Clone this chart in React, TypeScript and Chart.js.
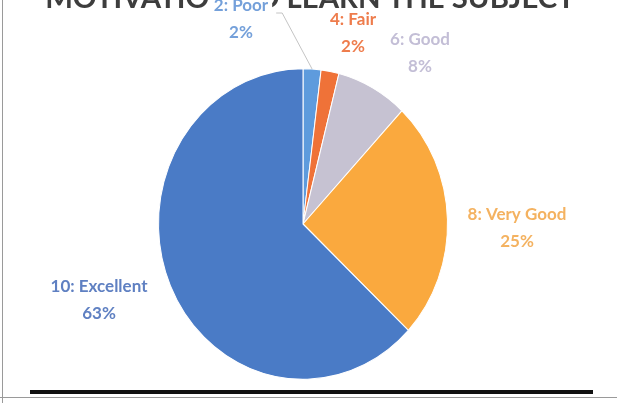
import React, { useEffect, useRef } from "react";
import { Chart, registerables } from "chart.js";

Chart.register(...registerables);

const categories = ["2: Poor", "4: Fair", "6: Good", "8: Very Good", "10: Excellent"];
const percentages = [2, 2, 8, 25, 63];
const percentLabels = ["2%", "2%", "8%", "25%", "63%"];
const sliceColors = ["#5E9BDD", "#EF7238", "#C6C2D2", "#FAA93E", "#4A7BC6"];
const labelColors = ["#74A0DA", "#EE7C4C", "#C3BED6", "#F4B260", "#5F80C2"];
const titleText = "MOTIVATION TO LEARN THE SUBJECT";

// label block centres (text layout only)
const labelPositions = [
  [241, 19],
  [353, 33],
  [420, 53],
  [517, 228],
  [99, 300],
];
const LINE_GAP = 27;
const SCALE_Y = 1.075;
const FONT = "bold 17px Lato";

const stretchPlugin = {
  id: "stretch",
  beforeDatasetsDraw(chart: any) {
    const arc = chart.getDatasetMeta(0).data[0];
    const ctx = chart.ctx;
    ctx.save();
    ctx.translate(arc.x, arc.y);
    ctx.scale(1, SCALE_Y);
    ctx.translate(-arc.x, -arc.y);
  },
  afterDatasetsDraw(chart: any) {
    chart.ctx.restore();
  },
};

const titlePlugin = {
  id: "cutTitle",
  beforeDatasetsDraw(chart: any) {
    const ctx = chart.ctx;
    ctx.save();
    let size = 30;
    ctx.font = `bold ${size}px Lato`;
    const w = ctx.measureText(titleText).width;
    size = (size * 530) / w;
    ctx.font = `bold ${size}px Lato`;
    ctx.fillStyle = "#3d3d3d";
    ctx.textAlign = "center";
    ctx.textBaseline = "alphabetic";
    ctx.fillText(titleText, 310, 8);
    ctx.restore();
  },
};

const labelPlugin = {
  id: "sliceLabels",
  afterDatasetsDraw(chart: any) {
    const ctx = chart.ctx;
    const meta = chart.getDatasetMeta(0);
    ctx.save();
    ctx.font = FONT;
    ctx.textAlign = "center";
    ctx.textBaseline = "middle";
    meta.data.forEach((arc: any, i: number) => {
      const [cx, cy] = labelPositions[i];
      if (i === 0) {
        // white box over title + leader line
        const w = ctx.measureText(categories[i]).width;
        ctx.fillStyle = "#fff";
        ctx.fillRect(cx - w / 2 - 4, 0, w + 8, cy - LINE_GAP / 2 + 9);
        const mid = (arc.startAngle + arc.endAngle) / 2;
        const ex = arc.x + arc.outerRadius * Math.cos(mid);
        const ey = arc.y + arc.outerRadius * SCALE_Y * Math.sin(mid);
        ctx.strokeStyle = "#c4c4c4";
        ctx.lineWidth = 1;
        ctx.beginPath();
        ctx.moveTo(cx + w / 2 + 8, 13);
        ctx.lineTo(cx + w / 2 + 14, 13);
        ctx.lineTo(ex, ey);
        ctx.stroke();
      }
      ctx.fillStyle = labelColors[i];
      ctx.fillText(categories[i], cx, cy - LINE_GAP / 2);
      ctx.fillText(percentLabels[i], cx, cy + LINE_GAP / 2);
    });
    ctx.restore();
  },
};

export default function App() {
  const ref = useRef<HTMLCanvasElement | null>(null);
  useEffect(() => {
    if (!ref.current) return;
    const chart = new Chart(ref.current, {
      type: "pie",
      data: {
        labels: categories,
        datasets: [
          {
            data: percentages,
            backgroundColor: sliceColors,
            borderColor: "#ffffff",
            borderWidth: 1,
            hoverOffset: 0,
          },
        ],
      },
      options: {
        animation: false,
        responsive: false,
        devicePixelRatio: 1,
        layout: { padding: { left: 158, right: 169, top: 79, bottom: 34 } },
        plugins: {
          legend: { display: false },
          tooltip: { enabled: false },
          title: { display: false },
        },
      },
      plugins: [titlePlugin, stretchPlugin, labelPlugin],
    });
    return () => chart.destroy();
  }, []);

  return (
    <div
      style={{
        position: "absolute",
        left: 0,
        top: 0,
        width: 617,
        height: 403,
        overflow: "hidden",
        background: "#ffffff",
      }}
    >
      <canvas ref={ref} width={617} height={403} style={{ position: "absolute", left: 0, top: 0 }} />
      <div style={{ position: "absolute", left: 30, top: 390, width: 563, height: 4, background: "#111" }} />
      <div style={{ position: "absolute", left: 0, top: 397, width: 617, height: 1, background: "#9a9a9a" }} />
      <div style={{ position: "absolute", left: 2, top: 0, width: 1, height: 403, background: "#9a9a9a" }} />
    </div>
  );
}
